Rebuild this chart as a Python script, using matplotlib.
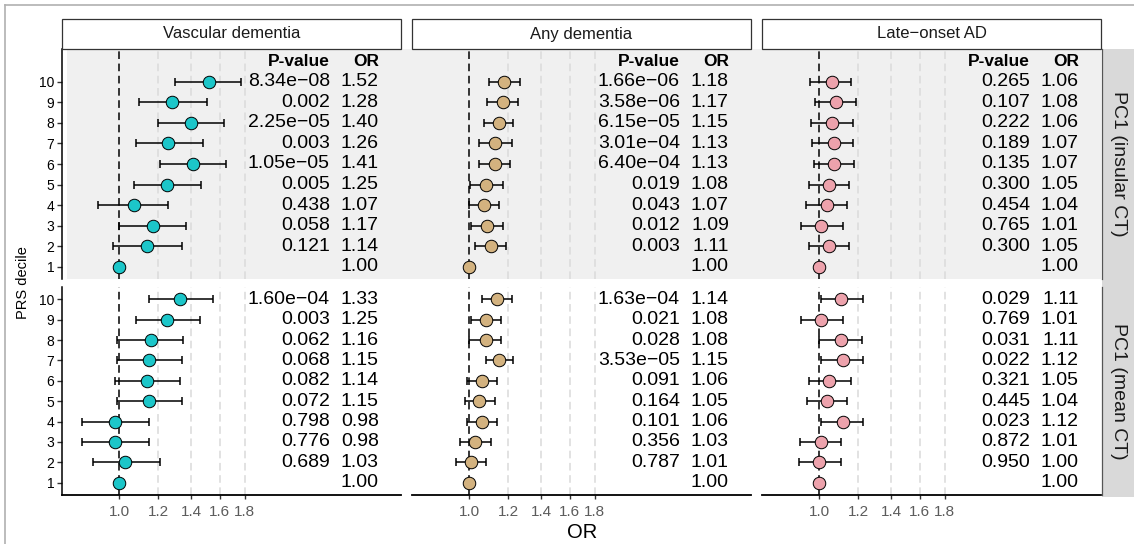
import numpy as np
import matplotlib
matplotlib.use("Agg")
import matplotlib.pyplot as plt
from matplotlib.patches import Rectangle
from matplotlib.lines import Line2D

plt.rcParams["font.family"] = ["Liberation Sans", "DejaVu Sans"]

# ---------------------------------------------------------------------------
# Data
# ---------------------------------------------------------------------------
deciles = list(range(1, 11))
nan = np.nan

outcomes = ["Vascular dementia", "Any dementia", "Late\u2212onset AD"]
measures = ["PC1 (insular CT)", "PC1 (mean CT)"]
colors = ["#1CC6C9", "#D3B27F", "#EDA2AC"]

vd_ins_or = [1.00, 1.14, 1.17, 1.07, 1.25, 1.41, 1.26, 1.40, 1.28, 1.52]
vd_ins_lo = [nan, 0.97, 1.00, 0.905, 1.07, 1.21, 1.08, 1.20, 1.10, 1.30]
vd_ins_hi = [nan, 1.34, 1.37, 1.26, 1.47, 1.65, 1.48, 1.63, 1.51, 1.77]
vd_ins_p = ["", "0.121", "0.058", "0.438", "0.005", "1.05e\u221205", "0.003",
            "2.25e\u221205", "0.002", "8.34e\u221208"]

vd_mean_or = [1.00, 1.03, 0.98, 0.98, 1.15, 1.14, 1.15, 1.16, 1.25, 1.33]
vd_mean_lo = [nan, 0.886, 0.84, 0.84, 0.99, 0.98, 0.99, 0.99, 1.08, 1.15]
vd_mean_hi = [nan, 1.21, 1.15, 1.15, 1.34, 1.33, 1.34, 1.35, 1.46, 1.55]
vd_mean_p = ["", "0.689", "0.776", "0.798", "0.072", "0.082", "0.068",
             "0.062", "0.003", "1.60e\u221204"]

ad_ins_or = [1.00, 1.11, 1.09, 1.07, 1.08, 1.13, 1.13, 1.15, 1.17, 1.18]
ad_ins_lo = [nan, 1.03, 1.01, 1.00, 1.006, 1.05, 1.05, 1.07, 1.09, 1.10]
ad_ins_hi = [nan, 1.19, 1.17, 1.15, 1.17, 1.21, 1.22, 1.23, 1.26, 1.27]
ad_ins_p = ["", "0.003", "0.012", "0.043", "0.019", "6.40e\u221204",
            "3.01e\u221204", "6.15e\u221205", "3.58e\u221206", "1.66e\u221206"]

ad_mean_or = [1.00, 1.01, 1.03, 1.06, 1.05, 1.06, 1.15, 1.08, 1.08, 1.14]
ad_mean_lo = [nan, 0.94, 0.96, 0.99, 0.98, 0.99, 1.08, 1.00, 1.01, 1.06]
ad_mean_hi = [nan, 1.08, 1.11, 1.14, 1.13, 1.14, 1.23, 1.16, 1.16, 1.22]
ad_mean_p = ["", "0.787", "0.356", "0.101", "0.164", "0.091", "3.53e\u221205",
             "0.028", "0.021", "1.63e\u221204"]

load_ins_or = [1.00, 1.05, 1.01, 1.04, 1.05, 1.07, 1.07, 1.06, 1.08, 1.06]
load_ins_lo = [nan, 0.954, 0.92, 0.94, 0.953, 0.975, 0.966, 0.963, 0.98, 0.96]
load_ins_hi = [nan, 1.15, 1.12, 1.14, 1.15, 1.18, 1.17, 1.17, 1.19, 1.16]
load_ins_p = ["", "0.300", "0.765", "0.454", "0.300", "0.135", "0.189",
              "0.222", "0.107", "0.265"]

load_mean_or = [1.00, 1.00, 1.01, 1.12, 1.04, 1.05, 1.12, 1.11, 1.01, 1.11]
load_mean_lo = [nan, 0.91, 0.915, 1.01, 0.944, 0.953, 1.01, 1.00, 0.92, 1.01]
load_mean_hi = [nan, 1.11, 1.11, 1.23, 1.14, 1.16, 1.23, 1.22, 1.12, 1.23]
load_mean_p = ["", "0.950", "0.872", "0.023", "0.445", "0.321", "0.022",
               "0.031", "0.769", "0.029"]

panels = {
    (0, 0): (vd_ins_or, vd_ins_lo, vd_ins_hi, vd_ins_p),
    (1, 0): (vd_mean_or, vd_mean_lo, vd_mean_hi, vd_mean_p),
    (0, 1): (ad_ins_or, ad_ins_lo, ad_ins_hi, ad_ins_p),
    (1, 1): (ad_mean_or, ad_mean_lo, ad_mean_hi, ad_mean_p),
    (0, 2): (load_ins_or, load_ins_lo, load_ins_hi, load_ins_p),
    (1, 2): (load_mean_or, load_mean_lo, load_mean_hi, load_mean_p),
}

x_ticks = [1.0, 1.2, 1.4, 1.6, 1.8]
x_lim = (0.766, 3.735)
x_pval = 2.68
x_or = 3.37

# ---------------------------------------------------------------------------
# Layout (pixel boxes -> figure fractions)
# ---------------------------------------------------------------------------
W, H = 1134, 544
fig = plt.figure(figsize=(W / 100, H / 100), dpi=100)


def box(x0, y0, x1, y1):
    return [x0 / W, 1 - y1 / H, (x1 - x0) / W, (y1 - y0) / H]


col_x = [(62, 401), (412, 751), (762, 1101)]
row_y = [(49, 279), (287, 495)]
row_ylim = [(0.4, 11.6), (0.4, 10.6)]

# outer frame
fig.add_artist(Line2D([5 / W, 1], [1 - 5 / H, 1 - 5 / H], color="#b0b0b0", lw=1.2))
fig.add_artist(Line2D([5 / W, 5 / W], [0, 1 - 5 / H], color="#b0b0b0", lw=1.2))

# light grey band behind the top row
bx = box(67, 49, 1101, 279)
fig.add_artist(Rectangle((bx[0], bx[1]), bx[2], bx[3], facecolor="#F0F0F0",
                         edgecolor="none", zorder=0))

for r, (y0, y1) in enumerate(row_y):
    for c, (x0, x1) in enumerate(col_x):
        ax = fig.add_axes(box(x0, y0, x1, y1))
        ax.patch.set_alpha(0)
        orv, lo, hi, pv = panels[(r, c)]
        orv = np.array(orv)
        lo = np.array(lo)
        hi = np.array(hi)

        ax.set_xscale("log")
        ax.set_xlim(*x_lim)
        ax.set_ylim(*row_ylim[r])

        for t in x_ticks[1:]:
            ax.axvline(t, color="#DADADA", lw=1.1, ls=(0, (5, 3)), zorder=1)
        ax.axvline(1.0, color="black", lw=1.1, ls=(0, (5, 3)), zorder=2)

        has_ci = ~np.isnan(lo)
        d = np.array(deciles)
        ax.errorbar(orv[has_ci], d[has_ci],
                    xerr=[orv[has_ci] - lo[has_ci], hi[has_ci] - orv[has_ci]],
                    fmt="none", ecolor="black", elinewidth=1.1, capsize=3,
                    capthick=1.1, zorder=3)
        ax.plot(orv, d, "o", ms=9, mfc=colors[c], mec="black", mew=0.7,
                zorder=4, clip_on=False)

        for yi, p, o in zip(deciles, pv, orv):
            ax.text(x_pval, yi, p, ha="right", va="center", fontsize=14)
            ax.text(x_or, yi, f"{o:.2f}", ha="right", va="center", fontsize=14)
        if r == 0:
            ax.text(x_pval, 11, "P-value", ha="right", va="center",
                    fontsize=12.5, fontweight="bold")
            ax.text(x_or, 11, "OR", ha="right", va="center",
                    fontsize=12.5, fontweight="bold")

        for s in ["top", "right"]:
            ax.spines[s].set_visible(False)
        ax.spines["left"].set_visible(c == 0)
        ax.spines["left"].set_linewidth(1.1)
        ax.spines["bottom"].set_visible(r == 1)
        ax.spines["bottom"].set_linewidth(1.3)

        ax.xaxis.set_minor_locator(matplotlib.ticker.NullLocator())
        if r == 1:
            ax.set_xticks(x_ticks)
            ax.set_xticklabels([f"{t:.1f}" for t in x_ticks], fontsize=11,
                               color="#5C5C5C")
            ax.tick_params(axis="x", length=3, width=1, color="#333333", pad=4)
        else:
            ax.set_xticks([])

        if c == 0:
            ax.set_yticks(deciles)
            ax.set_yticklabels([str(v) for v in deciles], fontsize=10)
            ax.tick_params(axis="y", length=3.5, width=1, color="#333333", pad=2)
        else:
            ax.set_yticks([])

# top strips
for c, (x0, x1) in enumerate(col_x):
    b = box(x0, 19, x1, 49)
    fig.add_artist(Rectangle((b[0], b[1]), b[2], b[3], facecolor="white",
                             edgecolor="#333333", lw=0.9))
    fig.text((x0 + x1) / 2 / W, 1 - 34 / H, outcomes[c], ha="center",
             va="center", fontsize=12, color="#1a1a1a")

# right strips
b = box(1102, 49, 1134, 497)
fig.add_artist(Rectangle((b[0], b[1]), b[2], b[3], facecolor="#D9D9D9",
                         edgecolor="none"))
for r, (y0, y1) in enumerate(row_y):
    fig.add_artist(Line2D([1102 / W, 1102 / W], [1 - y0 / H, 1 - y1 / H],
                          color="#555555", lw=0.9))
    fig.text(1119 / W, 1 - (y0 + y1) / 2 / H, measures[r], ha="center",
             va="center", rotation=-90, fontsize=14, color="#1a1a1a")

fig.text(23 / W, 1 - 283 / H, "PRS decile", rotation=90, ha="center",
         va="center", fontsize=10.5)
fig.text(582 / W, 1 - 532 / H, "OR", ha="center", va="center", fontsize=14.5)

fig.savefig("out.png", dpi=100)
